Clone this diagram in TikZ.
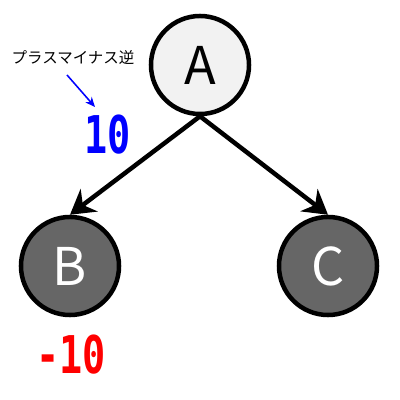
\documentclass[tikz,border=0pt]{standalone}
\usepackage{fontspec}
\setmainfont{Noto Sans CJK JP}
\newfontfamily\numfont{DejaVu Sans Mono}
\usetikzlibrary{arrows.meta}

\tikzset{
  vtx/.style={circle,draw=black,line width=3.2pt,minimum size=2.45cm,inner sep=0pt,
    font=\fontsize{37}{37}\selectfont},
  light/.style={vtx,fill=black!5,text=black},
  dark/.style={vtx,fill=black!60,text=white},
  edge/.style={line width=3.2pt,-{Stealth[length=17pt,width=20pt]}},
  score/.style={font=\numfont\bfseries\fontsize{37}{37}\selectfont,xscale=0.74}
}

\begin{document}
\begin{tikzpicture}[x=0.025cm,y=0.025cm]
    \useasboundingbox (0,0) rectangle (400,400);

    % tree
    \node[light] (A) at (200,335) {A};
    \node[dark] (B) at (70,134) {B};
    \node[dark] (C) at (328,134) {C};
    \draw[edge] (A.south) -- (B.north);
    \draw[edge] (A.south) -- (C.north);

    % scores
    \node[score,text=blue] (ten) at (108,265) {10};
    \node[score,text=red] (mten) at (71,45) {-10};

    % note
    \node[font=\fontsize{11}{11}\selectfont] (note) at (73,342) {プラスマイナス逆};
    \coordinate (tail) at (67,325);
    \coordinate (head) at (95,293);
    \draw[blue,line width=1.1pt,-{Stealth[length=7pt,width=6pt]}] (tail) -- (head);
\end{tikzpicture}
\end{document}
